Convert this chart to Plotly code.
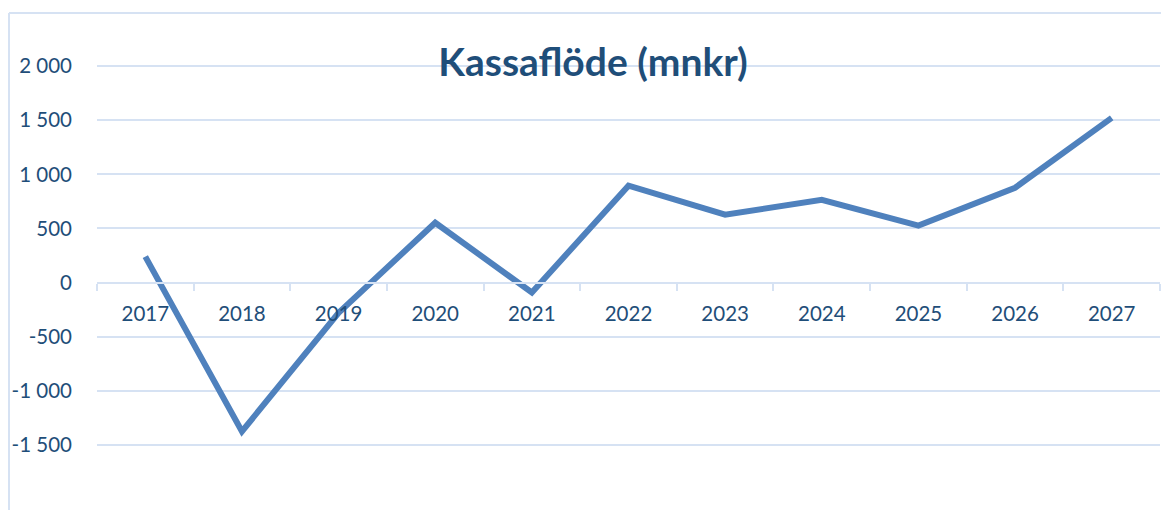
import plotly.graph_objects as go

years = ["2017", "2018", "2019", "2020", "2021", "2022",
         "2023", "2024", "2025", "2026", "2027"]
cash_flow = [240, -1375, -280, 553, -92, 895, 627, 765, 526, 876, 1522]

y_tickvals = [-1500, -1000, -500, 0, 500, 1000, 1500, 2000]
y_ticktext = ["-1 500", "-1 000", "-500", "0", "500", "1 000", "1 500", "2 000"]

text_color = "#1F4E79"
grid_color = "#D6E2F3"
line_color = "#4F81BD"

# page body adds an 8px offset, so the figure is laid out in shifted pixels
W, H = 1169, 510
ML, MR, MT, MB = 89, 17, 4, 19
y_min, y_max = -2000, 2500

fig = go.Figure()
fig.add_trace(go.Scatter(
    x=years, y=cash_flow, mode="lines",
    line=dict(color=line_color, width=6),
    showlegend=False, hoverinfo="x+y",
))

# position of the category axis at y = 0 (fraction of the plot height)
zero_pos = (0 - y_min) / (y_max - y_min)

fig.update_layout(
    width=W, height=H,
    margin=dict(l=ML, r=MR, t=MT, b=MB),
    paper_bgcolor="white", plot_bgcolor="white",
    font=dict(family="Lato", color=text_color, size=20),
    title=dict(text="<b>Kassaflöde (mnkr)</b>", x=585 / W,
               xanchor="center", y=1 - 54 / H, yanchor="middle",
               font=dict(family="Lato", size=39, color=text_color)),
    xaxis=dict(
        type="category", range=[-0.5, len(years) - 0.5],
        anchor="free", position=zero_pos,
        showline=True, linecolor=grid_color, linewidth=2,
        showgrid=False, tickson="boundaries",
        ticks="outside", ticklen=7, tickcolor=grid_color, tickwidth=2,
        tickfont=dict(size=20.5, color=text_color),
        ticklabelstandoff=13,
    ),
    yaxis=dict(
        range=[y_min, y_max],
        tickvals=y_tickvals, ticktext=y_ticktext,
        showgrid=True, gridcolor=grid_color, gridwidth=1.5,
        zeroline=False, showline=False,
        tickfont=dict(size=20.5, color=text_color),
        ticklabelstandoff=24,
    ),
)

# outer chart border (left and top edges visible in the crop)
px_x = lambda p: (p - ML) / (W - ML - MR)
px_y = lambda p: (H - MB - p) / (H - MT - MB)
fig.add_shape(type="line", xref="paper", yref="paper",
              x0=px_x(1), x1=px_x(1), y0=px_y(5), y1=px_y(H + 5),
              line=dict(color=grid_color, width=2))
fig.add_shape(type="line", xref="paper", yref="paper",
              x0=px_x(1), x1=px_x(W + 5), y0=px_y(5), y1=px_y(5),
              line=dict(color=grid_color, width=2))

fig.write_html("out.html")
